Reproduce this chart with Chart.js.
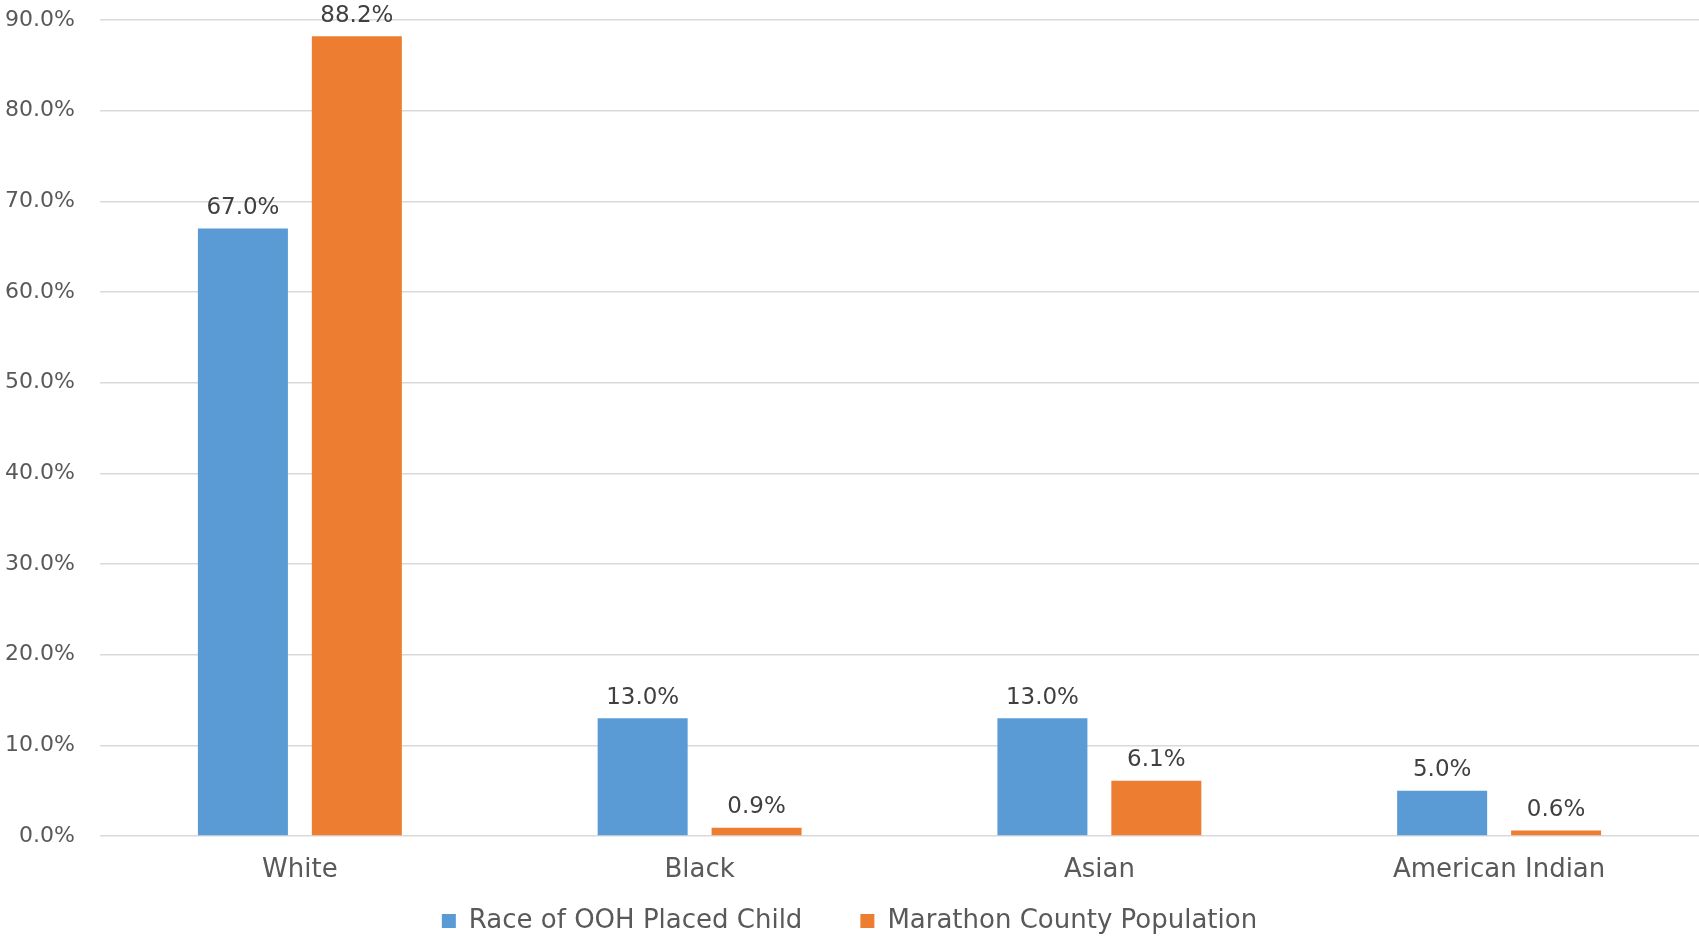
<!DOCTYPE html>
<html>
<head>
<meta charset="utf-8">
<script src="https://cdn.jsdelivr.net/npm/chart.js@4/dist/chart.umd.min.js"></script>
<style>
  html, body { margin: 0; padding: 0; background: #ffffff; }
  #wrap { width: 1699px; height: 938px; position: relative; }
</style>
</head>
<body>
<div id="wrap"><canvas id="c" width="1699" height="938"></canvas></div>
<script>
const categories = ["White", "Black", "Asian", "American Indian"];
const seriesNames = ["Race of OOH Placed Child", "Marathon County Population"];
const oohValues = [67.0, 13.0, 13.0, 5.0];
const countyValues = [88.2, 0.9, 6.1, 0.6];
const yTickMin = 0;
const yTickMax = 90;
const yTickStep = 10;

const FONT = "'DejaVu Sans', sans-serif";

const valueLabels = {
  id: 'valueLabels',
  afterDatasetsDraw(chart) {
    const ctx = chart.ctx;
    ctx.save();
    ctx.font = "23px " + FONT;
    ctx.fillStyle = '#404040';
    ctx.textAlign = 'center';
    ctx.textBaseline = 'bottom';
    chart.data.datasets.forEach((ds, i) => {
      const meta = chart.getDatasetMeta(i);
      meta.data.forEach((el, j) => {
        ctx.fillText(ds.data[j].toFixed(1) + '%', el.x, el.y - 9);
      });
    });
    ctx.restore();
  }
};

new Chart(document.getElementById('c'), {
  type: 'bar',
  data: {
    labels: categories,
    datasets: [
      { label: seriesNames[0], data: oohValues, backgroundColor: '#5B9BD5', borderWidth: 0,
        categoryPercentage: 0.57, barPercentage: 0.79 },
      { label: seriesNames[1], data: countyValues, backgroundColor: '#ED7D31', borderWidth: 0,
        categoryPercentage: 0.57, barPercentage: 0.79 }
    ]
  },
  options: {
    responsive: false,
    animation: false,
    devicePixelRatio: 1,
    layout: { padding: { top: 20, right: 0, left: 0, bottom: -6 } },
    plugins: {
      tooltip: { enabled: false },
      legend: {
        position: 'bottom',
        labels: {
          font: { family: FONT, size: 26 },
          color: '#595959',
          boxWidth: 14,
          boxHeight: 14,
          padding: 58
        }
      }
    },
    scales: {
      x: {
        grid: { display: false, drawTicks: false },
        border: { display: false },
        ticks: { font: { family: FONT, size: 26 }, color: '#595959', mirror: true, padding: -50,
                 autoSkip: false, maxRotation: 0, minRotation: 0 },
        afterFit(scale) { scale.height = 14; }
      },
      y: {
        min: yTickMin,
        max: yTickMax,
        grid: { color: '#d9d9d9', lineWidth: 1.5, drawTicks: true, tickLength: 25, tickColor: 'rgba(0,0,0,0)' },
        border: { display: false },
        ticks: {
          stepSize: yTickStep,
          font: { family: FONT, size: 22 },
          color: '#595959',
          padding: 0,
          callback: v => Number(v).toFixed(1) + '%'
        },
        afterFit(scale) { scale.width = 100; }
      }
    }
  },
  plugins: [valueLabels]
});
</script>
</body>
</html>
